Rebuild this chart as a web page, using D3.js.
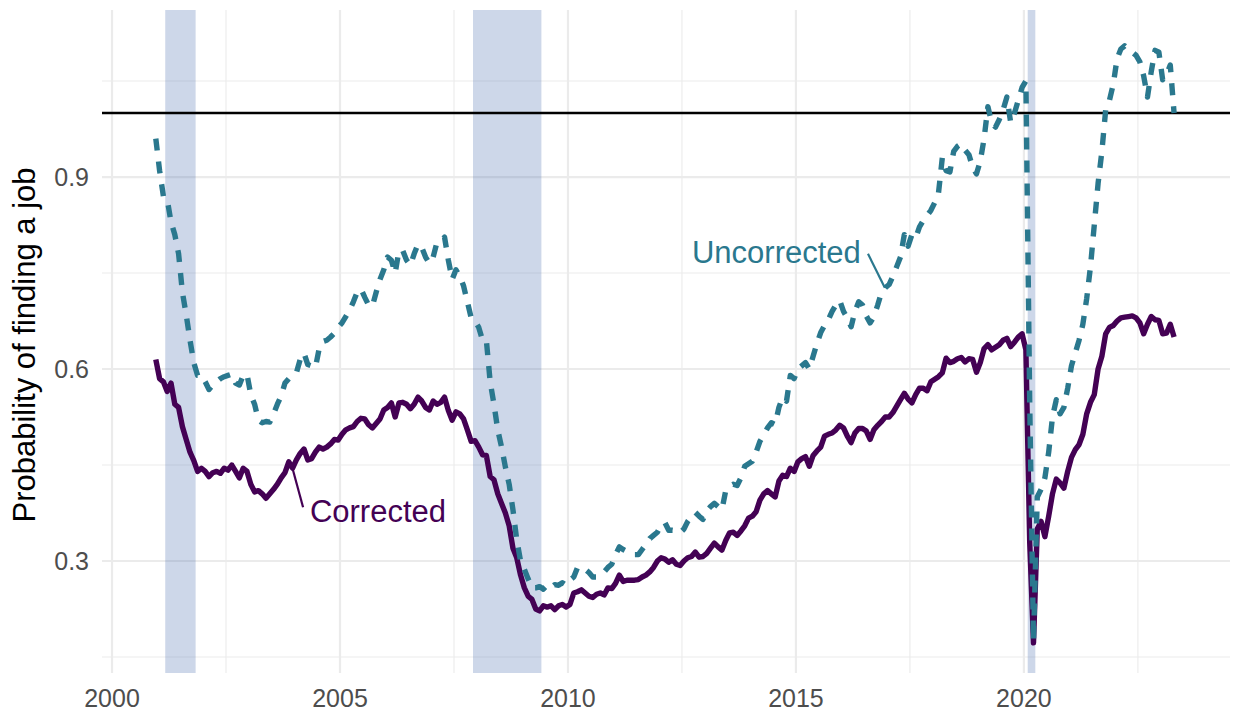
<!DOCTYPE html>
<html>
<head>
<meta charset="utf-8">
<script src="https://cdn.jsdelivr.net/npm/d3@7"></script>
<style>
  body { margin: 0; background: #fff; }
  svg { display: block; font-family: "Liberation Sans", Arial, sans-serif; }
</style>
</head>
<body>
<div class="visHolder"></div>
<script>
const w = 1235;
const h = 712;

// monthly series, Jan 2001 .. May 2023
const startYear = 2000.96;
const corrected = [
  0.615, 0.585, 0.58, 0.565, 0.578, 0.545, 0.54, 0.51, 0.49, 0.47, 0.457, 0.44,
  0.445, 0.44, 0.432, 0.438, 0.44, 0.437, 0.445, 0.442, 0.45, 0.44, 0.43, 0.445,
  0.44, 0.42, 0.408, 0.41, 0.405, 0.398, 0.405, 0.412, 0.42, 0.43, 0.438, 0.455,
  0.445, 0.458, 0.468, 0.475, 0.458, 0.46, 0.47, 0.478, 0.475, 0.478, 0.483, 0.49,
  0.489, 0.498, 0.505, 0.508, 0.51, 0.518, 0.523, 0.522, 0.513, 0.508, 0.515, 0.522,
  0.536, 0.54, 0.547, 0.525, 0.547, 0.548, 0.545, 0.538, 0.545, 0.556, 0.55, 0.54,
  0.536, 0.55, 0.545, 0.548, 0.556, 0.535, 0.52, 0.533, 0.53, 0.522, 0.505, 0.487,
  0.488, 0.478, 0.466, 0.465, 0.432, 0.427, 0.405, 0.39, 0.375, 0.355, 0.32, 0.305,
  0.278, 0.258, 0.245, 0.24, 0.225, 0.222, 0.23, 0.228, 0.23, 0.224, 0.23, 0.232,
  0.228, 0.232, 0.25, 0.252, 0.255, 0.25, 0.245, 0.243, 0.248, 0.25, 0.247, 0.258,
  0.257, 0.265, 0.278, 0.268, 0.27, 0.27, 0.27, 0.271, 0.275, 0.278, 0.283, 0.29,
  0.3, 0.305, 0.303, 0.298, 0.302, 0.295, 0.293, 0.3, 0.305, 0.307, 0.314, 0.306,
  0.307, 0.312, 0.32, 0.328, 0.322, 0.317, 0.332, 0.344, 0.345, 0.34, 0.347, 0.355,
  0.367, 0.37, 0.377, 0.395, 0.405, 0.41, 0.405, 0.4, 0.425, 0.434, 0.432, 0.445,
  0.44, 0.455, 0.46, 0.463, 0.448, 0.465, 0.472, 0.478, 0.495, 0.498, 0.5, 0.505,
  0.512, 0.508, 0.495, 0.485, 0.5, 0.507, 0.507, 0.503, 0.49, 0.505, 0.512, 0.518,
  0.525, 0.525, 0.532, 0.542, 0.552, 0.562, 0.553, 0.547, 0.56, 0.57, 0.57, 0.566,
  0.58, 0.584, 0.588, 0.594, 0.617, 0.61, 0.612, 0.616, 0.618, 0.611, 0.616, 0.615,
  0.595, 0.61, 0.632, 0.638, 0.63, 0.634, 0.638, 0.645, 0.648, 0.635, 0.642, 0.65,
  0.655, 0.63, 0.33, 0.172, 0.35, 0.362, 0.338, 0.37, 0.405, 0.428, 0.422, 0.414,
  0.44, 0.462, 0.474, 0.482, 0.498, 0.53, 0.548, 0.56, 0.6, 0.62, 0.655, 0.665,
  0.668, 0.675, 0.68, 0.681, 0.682, 0.683, 0.68, 0.672, 0.655, 0.67, 0.682, 0.677,
  0.676, 0.655, 0.656, 0.67, 0.65
];
const uncorrected = [
  0.96, 0.91, 0.87, 0.865, 0.83, 0.81, 0.78, 0.72, 0.685, 0.645, 0.61, 0.59,
  0.59, 0.58, 0.568, 0.575, 0.58, 0.585, 0.588, 0.59, 0.592, 0.578, 0.575, 0.59,
  0.592, 0.56, 0.545, 0.52, 0.516, 0.518, 0.517, 0.53, 0.545, 0.558, 0.578, 0.585,
  0.59, 0.594, 0.615, 0.625, 0.607, 0.605, 0.602, 0.632, 0.643, 0.645, 0.65, 0.656,
  0.665, 0.672, 0.682, 0.692, 0.705, 0.72, 0.725, 0.712, 0.7, 0.698, 0.72, 0.74,
  0.755, 0.775, 0.77, 0.75, 0.785, 0.785, 0.77, 0.762, 0.78, 0.795, 0.79, 0.775,
  0.765, 0.775, 0.798, 0.8, 0.806, 0.77, 0.74, 0.755, 0.745, 0.73, 0.705, 0.68,
  0.675, 0.665, 0.645, 0.645, 0.58, 0.545, 0.505, 0.478, 0.447, 0.42, 0.38, 0.333,
  0.3, 0.287, 0.272, 0.258, 0.258, 0.26, 0.256, 0.262, 0.258, 0.263, 0.262, 0.266,
  0.262, 0.27, 0.275, 0.29, 0.29, 0.287, 0.282, 0.275, 0.275, 0.278, 0.283, 0.29,
  0.295, 0.31, 0.322, 0.318, 0.315, 0.312, 0.31, 0.31, 0.318, 0.326, 0.335, 0.34,
  0.345, 0.356, 0.36, 0.348, 0.348, 0.347, 0.344, 0.35, 0.362, 0.37, 0.376, 0.37,
  0.365, 0.378, 0.385, 0.39, 0.385, 0.38, 0.41, 0.417, 0.42, 0.418, 0.43, 0.448,
  0.452, 0.456, 0.47, 0.487, 0.497, 0.508, 0.516, 0.513, 0.54, 0.556, 0.55, 0.59,
  0.585, 0.6, 0.605, 0.61, 0.6, 0.62, 0.64, 0.657, 0.668, 0.677, 0.69, 0.7,
  0.707, 0.69, 0.68, 0.666, 0.69, 0.705, 0.7, 0.683, 0.672, 0.682, 0.7, 0.72,
  0.727, 0.732, 0.745, 0.76, 0.775, 0.81, 0.792, 0.81, 0.805, 0.822, 0.832, 0.84,
  0.848, 0.86, 0.875, 0.93, 0.91, 0.908, 0.94, 0.948, 0.952, 0.942, 0.935, 0.915,
  0.905, 0.925, 0.96, 1.01, 0.985, 0.978, 0.99, 1.005, 1.025, 0.985, 1.0, 1.02,
  1.04, 1.05, 0.55, 0.175, 0.4, 0.412, 0.43, 0.47, 0.525, 0.552, 0.53, 0.54,
  0.57, 0.605, 0.625, 0.645, 0.67, 0.71, 0.76, 0.825, 0.89, 0.94, 1.005, 1.02,
  1.045, 1.085, 1.1, 1.105, 1.1, 1.095, 1.09, 1.08, 1.058, 1.025, 1.065, 1.098,
  1.095, 1.052, 1.06, 1.075, 1.0
];

// recession periods (start, end) in decimal years
const recessionStart = [2001.167, 2007.917, 2020.083];
const recessionEnd = [2001.833, 2009.417, 2020.25];

const xTicks = [2000, 2005, 2010, 2015, 2020];
const xMinor = [2002.5, 2007.5, 2012.5, 2017.5, 2022.5];
const yTicks = [0.3, 0.6, 0.9];
const yMinor = [0.15, 0.45, 0.75, 1.05];
const refLine = 1.0;

const purple = '#440154';
const teal = '#2a788e';

const svg = d3.select('.visHolder').append('svg').attr('width', w).attr('height', h);

const xScale = d3.scaleLinear().domain([1999.78, 2024.52]).range([102, 1230]);
const yScale = d3.scaleLinear().domain([0.125, 1.161]).range([673, 10]);

const seriesC = corrected.map((v, i) => ({t: startYear + i / 12, v: v}));
const seriesU = uncorrected.map((v, i) => ({t: startYear + i / 12, v: v}));

// grid
const grid = svg.append('g');
grid.selectAll('.ymin').data(yMinor).enter().append('line')
  .attr('x1', 102).attr('x2', 1230)
  .attr('y1', d => yScale(d)).attr('y2', d => yScale(d))
  .attr('stroke', '#ebebeb').attr('stroke-width', 1.1);
grid.selectAll('.xmin').data(xMinor).enter().append('line')
  .attr('y1', 10).attr('y2', 673)
  .attr('x1', d => xScale(d)).attr('x2', d => xScale(d))
  .attr('stroke', '#ebebeb').attr('stroke-width', 1.1);
grid.selectAll('.ymaj').data(yTicks).enter().append('line')
  .attr('x1', 102).attr('x2', 1230)
  .attr('y1', d => yScale(d)).attr('y2', d => yScale(d))
  .attr('stroke', '#ebebeb').attr('stroke-width', 2.2);
grid.selectAll('.xmaj').data(xTicks).enter().append('line')
  .attr('y1', 10).attr('y2', 673)
  .attr('x1', d => xScale(d)).attr('x2', d => xScale(d))
  .attr('stroke', '#ebebeb').attr('stroke-width', 2.2);

// recession bands
svg.selectAll('.rec').data(recessionStart).enter().append('rect')
  .attr('x', d => xScale(d))
  .attr('width', (d, i) => xScale(recessionEnd[i]) - xScale(d))
  .attr('y', 10).attr('height', 663)
  .attr('fill', '#4a6fb0').attr('fill-opacity', 0.28);

// reference line at 1
svg.append('line')
  .attr('x1', 102).attr('x2', 1230)
  .attr('y1', yScale(refLine)).attr('y2', yScale(refLine))
  .attr('stroke', '#000').attr('stroke-width', 2.6);

const line = d3.line().x(d => xScale(d.t)).y(d => yScale(d.v));

svg.append('path').datum(seriesC)
  .attr('d', line).attr('fill', 'none')
  .attr('stroke', purple).attr('stroke-width', 5.4)
  .attr('stroke-linejoin', 'round');

svg.append('path').datum(seriesU)
  .attr('d', line).attr('fill', 'none')
  .attr('stroke', teal).attr('stroke-width', 5.4)
  .attr('stroke-dasharray', '12,11')
  .attr('stroke-linejoin', 'round');

//labels
svg.append('line')
  .attr('x1', xScale(2003.95)).attr('y1', yScale(0.447))
  .attr('x2', xScale(2004.19)).attr('y2', yScale(0.384))
  .attr('stroke', purple).attr('stroke-width', 2.2);
svg.append('text')
  .attr('x', xScale(2004.34)).attr('y', yScale(0.361))
  .attr('fill', purple).attr('font-size', 31)
  .text('Corrected');

svg.append('line')
  .attr('x1', xScale(2016.58)).attr('y1', yScale(0.78))
  .attr('x2', xScale(2016.95)).attr('y2', yScale(0.727))
  .attr('stroke', teal).attr('stroke-width', 2.2);
svg.append('text')
  .attr('x', xScale(2012.72)).attr('y', yScale(0.766))
  .attr('fill', teal).attr('font-size', 31)
  .text('Uncorrected');

//axis
svg.selectAll('.xlab').data(xTicks).enter().append('text')
  .attr('x', d => xScale(d)).attr('y', 707)
  .attr('text-anchor', 'middle')
  .attr('fill', '#4d4d4d').attr('font-size', 25)
  .text(d => d);

svg.selectAll('.ylab').data(yTicks).enter().append('text')
  .attr('x', 89).attr('y', d => yScale(d))
  .attr('dy', '0.36em')
  .attr('text-anchor', 'end')
  .attr('fill', '#4d4d4d').attr('font-size', 25)
  .text(d => d3.format('.1f')(d));

svg.append('text')
  .attr('transform', 'translate(35,' + 345 + ') rotate(-90)')
  .attr('text-anchor', 'middle')
  .attr('fill', '#000').attr('font-size', 31)
  .text('Probability of finding a job');
</script>
</body>
</html>
